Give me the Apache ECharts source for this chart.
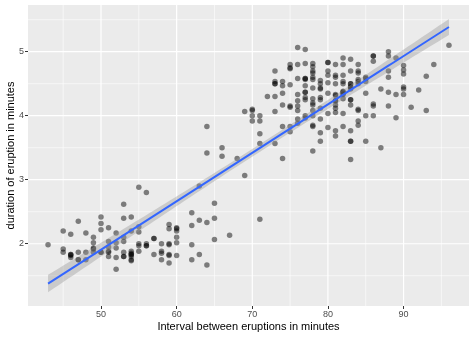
<!DOCTYPE html>
<html><head><meta charset="utf-8">
<script src="https://cdn.jsdelivr.net/npm/echarts@6/dist/echarts.min.js"></script>
<style>html,body{margin:0;padding:0;background:#fff}#c{width:474px;height:338px}</style>
</head><body><div id="c"></div>
<script>
const eruptions = [3.600,1.800,3.333,2.283,4.533,2.883,4.700,3.600,1.950,4.350,
1.833,3.917,4.200,1.750,4.700,2.167,1.750,4.800,1.600,4.250,
1.800,1.750,3.450,3.067,4.533,3.600,1.967,4.083,3.850,4.433,
4.300,4.467,3.367,4.033,3.833,2.017,1.867,4.833,1.833,4.783,
4.350,1.883,4.567,1.750,4.533,3.317,3.833,2.100,4.633,2.000,
4.800,4.716,1.833,4.833,1.733,4.883,3.717,1.667,4.567,4.317,
2.233,4.500,1.750,4.800,1.817,4.400,4.167,4.700,2.067,4.700,
4.033,1.967,4.500,4.000,1.983,5.067,2.017,4.567,3.883,3.600,
4.133,4.333,4.100,2.633,4.067,4.933,3.950,4.517,2.167,4.000,
2.200,4.333,1.867,4.817,1.833,4.300,4.667,3.750,1.867,4.900,
2.483,4.367,2.100,4.500,4.050,1.867,4.700,1.783,4.850,3.683,
4.733,2.300,4.900,4.417,1.700,4.633,2.317,4.600,1.817,4.417,
2.617,4.067,4.250,1.967,4.600,3.767,1.917,4.500,2.267,4.650,
1.867,4.167,2.800,4.333,1.833,4.383,1.883,4.933,2.033,3.733,
4.233,2.233,4.533,4.817,4.333,1.983,4.633,2.017,5.100,1.800,
5.033,4.000,2.400,4.600,3.567,4.000,4.500,4.083,1.800,3.967,
2.200,4.150,2.000,3.833,3.500,4.583,2.367,5.000,1.933,4.617,
1.917,2.083,4.583,3.333,4.167,4.333,4.500,2.417,4.000,4.167,
1.883,4.583,4.250,3.767,2.033,4.433,4.083,1.833,4.417,2.183,
4.800,1.833,4.800,4.100,3.966,4.233,3.500,4.366,2.250,4.667,
2.100,4.350,4.133,1.867,4.600,1.783,4.367,3.850,1.933,4.500,
2.383,4.700,1.867,3.833,3.417,4.233,2.400,4.800,2.000,4.150,
1.867,4.267,1.750,4.483,4.000,4.117,4.083,4.267,3.917,4.550,
4.083,2.417,4.183,2.217,4.450,1.883,1.850,4.283,3.950,2.333,
4.150,2.350,4.933,2.900,4.583,3.833,2.083,4.367,2.133,4.350,
2.200,4.450,3.567,4.500,4.150,3.817,3.917,4.450,2.000,4.283,
4.767,4.533,1.850,4.250,1.983,2.250,4.750,4.117,2.150,4.417,
1.817,4.467];
const waiting = [79,54,74,62,85,55,88,85,51,85,
54,84,78,47,83,52,62,84,52,79,
51,47,78,69,74,83,55,76,78,79,
73,77,66,80,74,52,48,80,59,90,
80,58,84,58,73,83,64,53,82,59,
75,90,54,80,54,83,71,64,77,81,
59,84,48,82,60,92,78,78,65,73,
82,56,79,71,62,76,60,78,76,83,
75,82,70,65,73,88,76,80,48,86,
60,90,50,78,63,72,84,75,51,82,
62,88,49,83,81,47,84,52,86,81,
75,59,89,79,59,81,50,85,59,87,
53,69,77,56,88,81,45,82,55,90,
45,83,56,89,46,82,51,86,53,79,
81,60,82,77,76,59,80,49,96,53,
77,77,65,81,71,70,81,93,53,89,
45,86,58,78,66,76,63,88,52,93,
49,57,77,68,81,81,73,50,85,74,
55,77,83,83,51,78,84,46,83,55,
81,57,76,84,77,81,87,77,51,78,
60,82,91,53,78,46,77,84,49,83,
71,80,49,75,64,76,53,94,55,76,
50,82,54,75,78,79,78,78,70,79,
70,54,86,50,90,54,54,77,79,64,
75,47,86,63,85,82,57,82,67,74,
54,83,73,73,88,80,71,83,56,79,
78,84,58,83,43,60,75,81,46,90,
46,74];
const xTicks = [50,60,70,80,90];
const xMinor = [45,55,65,75,85,95];
const yTicks = [2,3,4,5];
const yMinor = [1.5,2.5,3.5,4.5,5.5];

// linear fit (geom_smooth method = "lm") with 95% confidence band
const n = waiting.length;
const mx = waiting.reduce((a,b)=>a+b,0)/n;
const my = eruptions.reduce((a,b)=>a+b,0)/n;
let sxx=0, sxy=0;
for (let i=0;i<n;i++){ sxx += (waiting[i]-mx)**2; sxy += (waiting[i]-mx)*(eruptions[i]-my); }
const b1 = sxy/sxx, b0 = my - b1*mx;
let sse=0; for (let i=0;i<n;i++){ const r = eruptions[i]-(b0+b1*waiting[i]); sse+=r*r; }
const s = Math.sqrt(sse/(n-2));
const tq = 1.9688;
const xmin = Math.min(...waiting), xmax = Math.max(...waiting);
const fitLine=[], lower=[], upper=[];
for (let k=0;k<80;k++){
  const x = xmin + (xmax-xmin)*k/79;
  const yh = b0+b1*x;
  const se = s*Math.sqrt(1/n + (x-mx)**2/sxx);
  fitLine.push([x,yh]); lower.push([x,yh-tq*se]); upper.push([x,yh+tq*se]);
}

const pts = waiting.map((w,i)=>[w,eruptions[i]]);
// grid lines: [value, orientation(0=vertical,1=horizontal), width]
const gridData = [];
xMinor.forEach(v=>gridData.push([v,0,0.6]));
yMinor.forEach(v=>gridData.push([v,1,0.6]));
xTicks.forEach(v=>gridData.push([v,0,1.2]));
yTicks.forEach(v=>gridData.push([v,1,1.2]));

const chart = echarts.init(document.getElementById('c'));
const FONT = '"Liberation Sans", Arial, sans-serif';
chart.setOption({
  animation:false,
  grid:{left:28,right:5,top:5,bottom:32,show:true,backgroundColor:'#EBEBEB',borderWidth:0,
        containLabel:false,outerBoundsMode:'none'},
  xAxis:{type:'value',min:40.35,max:98.65,
    name:'Interval between eruptions in minutes',nameLocation:'middle',nameGap:15,nameMoveOverlap:false,
    nameTextStyle:{color:'#000',fontSize:11,fontFamily:FONT},
    axisLine:{show:false},splitLine:{show:false},
    axisTick:{show:true,length:3,lineStyle:{color:'#333',width:1},customValues:xTicks},
    axisLabel:{color:'#4D4D4D',fontSize:9,fontFamily:FONT,margin:4,customValues:xTicks}},
  yAxis:{type:'value',min:1.027,max:5.73,
    name:'duration of eruption in minutes',nameLocation:'middle',nameGap:12,nameRotate:90,nameMoveOverlap:false,
    nameTextStyle:{color:'#000',fontSize:11,fontFamily:FONT},
    axisLine:{show:false},splitLine:{show:false},
    axisTick:{show:true,length:3,lineStyle:{color:'#333',width:1},customValues:yTicks},
    axisLabel:{color:'#4D4D4D',fontSize:9,fontFamily:FONT,margin:4,customValues:yTicks}},
  series:[
    {type:'custom',z:1,silent:true,data:gridData,
     renderItem:function(params,api){
       const cs = params.coordSys;
       const v = api.value(0), o = api.value(1), w = api.value(2);
       let x1,y1,x2,y2;
       if (o===0){ const p = api.coord([v,3]); x1=x2=p[0]; y1=cs.y; y2=cs.y+cs.height; }
       else { const p = api.coord([60,v]); y1=y2=p[1]; x1=cs.x; x2=cs.x+cs.width; }
       return {type:'line',shape:{x1,y1,x2,y2},style:{stroke:'#FFFFFF',lineWidth:w}};
     }},
    {type:'scatter',data:pts,z:3,symbolSize:5.5,
     itemStyle:{color:'rgba(0,0,0,0.6)',borderWidth:0}},
    {type:'custom',z:4,silent:true,data:[[mx,my]],
     renderItem:function(params,api){
       const poly = upper.map(p=>api.coord(p)).concat(lower.slice().reverse().map(p=>api.coord(p)));
       return {type:'polygon',shape:{points:poly},style:{fill:'rgba(153,153,153,0.4)'}};
     }},
    {type:'line',data:fitLine,symbol:'none',z:5,lineStyle:{color:'#3366FF',width:2}}
  ]
});
</script></body></html>
